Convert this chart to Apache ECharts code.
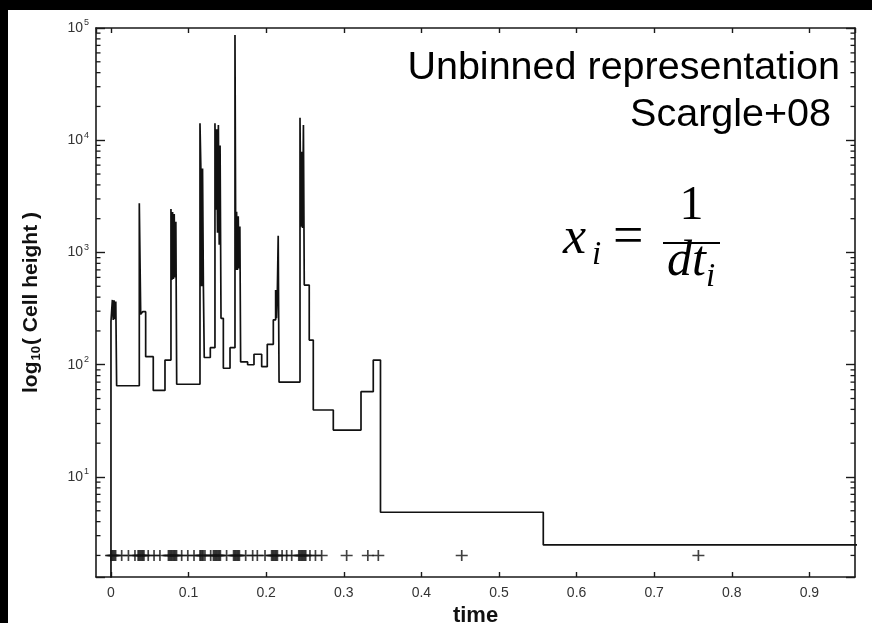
<!DOCTYPE html>
<html>
<head>
<meta charset="utf-8">
<script src="https://cdn.jsdelivr.net/npm/echarts@6/dist/echarts.min.js"></script>
<style>
  html, body { margin: 0; padding: 0; background: #000; width: 872px; height: 623px; overflow: hidden; }
  #chart { position: absolute; left: 8px; top: 10px; width: 864px; height: 613px; background: #fff; }
</style>
</head>
<body>
<div id="chart"></div>
<script>
// Axis extents
const X_MIN = -0.0193;
const X_MAX = 0.9588;
const Y_MIN = 1.285;
const Y_MAX = 100000;

// Level below the axis where the step curve starts, and the row of event markers
const baselineLevel = 1;
const markerLevel = 2;

// Start time of each cell of the unbinned representation
const cellStart = [
  0.0000, 0.0018, 0.0029, 0.0040, 0.0051, 0.0062,
  0.0073, 0.0365, 0.0383, 0.0408, 0.0447, 0.0545, 0.0696,
  0.0773, 0.0784, 0.0794, 0.0805, 0.0815, 0.0826, 0.0836,
  0.0847,
  0.1147, 0.1158, 0.1169, 0.1180, 0.1191,
  0.1202, 0.1280,
  0.1340, 0.1351, 0.1362, 0.1373, 0.1384, 0.1395, 0.1406,
  0.1418, 0.1448, 0.1534,
  0.1598, 0.16085, 0.1619, 0.16295, 0.1640, 0.16505, 0.1661,
  0.1671, 0.1761, 0.1843, 0.1942, 0.2014, 0.2092,
  0.2122, 0.2133, 0.2144, 0.2155,
  0.2166,
  0.2436, 0.2447, 0.2458, 0.2469, 0.2480,
  0.2491, 0.2555, 0.2607, 0.2865, 0.3222, 0.3380, 0.3473, 0.5571
];

// Height of each cell (1 / dt)
const cellHeight = [
  242, 378, 250, 375, 255, 365,
  65, 2740, 281, 297, 118, 59, 110,
  2440, 570, 2300, 580, 2200, 600, 1880,
  67,
  14150, 5800, 500, 5600, 495,
  116, 142,
  14150, 2400, 12500, 1500, 13700, 1170, 9000,
  259, 93, 142,
  86600, 700, 2310, 698, 2100, 720, 1700,
  106, 100, 124, 96, 152, 251,
  464, 260, 450, 1410,
  70,
  15900, 1700, 7900, 1650, 13700,
  513, 166, 39.5, 26.2, 57.5, 110, 4.85, 2.48
];

// Right end of the last cell
const lastCellEnd = 1.0;

// Photon arrival times
const eventTimes = [
  0.000, 0.0015, 0.003, 0.0045, 0.006, 0.0138, 0.0225, 0.0309,
  0.035, 0.0365, 0.038, 0.0395, 0.041, 0.0425, 0.048,
  0.0555, 0.0631, 0.074, 0.0755, 0.077, 0.0785, 0.080, 0.0815, 0.083, 0.0845, 0.0911, 0.099, 0.107,
  0.1147, 0.116, 0.1175, 0.119, 0.1211, 0.1285, 0.132, 0.1335, 0.135, 0.1365, 0.138, 0.1395, 0.141, 0.149,
  0.158, 0.1595, 0.161, 0.1625, 0.164, 0.1655, 0.1736, 0.1826, 0.1886, 0.1985,
  0.207, 0.2085, 0.210, 0.2115, 0.213, 0.2145, 0.2205, 0.2264, 0.2329,
  0.242, 0.2435, 0.245, 0.2465, 0.248, 0.2495, 0.251, 0.2564, 0.2635, 0.2715,
  0.3037, 0.331, 0.3445, 0.452, 0.757
];

// Minor tick positions on the logarithmic axis
const minorTickValues = [
  2, 3, 4, 5, 6, 7, 8, 9,
  20, 30, 40, 50, 60, 70, 80, 90,
  200, 300, 400, 500, 600, 700, 800, 900,
  2000, 3000, 4000, 5000, 6000, 7000, 8000, 9000,
  20000, 30000, 40000, 50000, 60000, 70000, 80000, 90000
];

const stepData = [[cellStart[0], baselineLevel]]
  .concat(cellStart.map((t, i) => [t, cellHeight[i]]))
  .concat([[lastCellEnd, cellHeight[cellHeight.length - 1]]]);
const eventData = eventTimes.map(t => [t, markerLevel]);
const minorData = minorTickValues.map(v => [X_MIN, v]);

const INK = '#1a1a1a';
const SANS = '"Liberation Sans", Arial, sans-serif';
const SERIF = '"Liberation Serif", "Times New Roman", serif';

const frameLine = { show: true, onZero: false, lineStyle: { color: INK, width: 1.6 } };

function timeLabel(v) {
  const k = Math.round(v * 10);
  if (Math.abs(v * 10 - k) > 1e-6) return '';
  return k === 0 ? '0' : (k / 10).toFixed(1);
}
function powerLabel(v) {
  const e = Math.log10(v);
  const n = Math.round(e);
  if (Math.abs(e - n) > 1e-6) return '';
  return '10{sup|' + n + '}';
}

const chart = echarts.init(document.getElementById('chart'), null, { renderer: 'canvas' });

chart.setOption({
  backgroundColor: '#fff',
  animation: false,
  grid: { left: 88, top: 18, right: 17, bottom: 46, containLabel: false, outerBoundsMode: 'none' },
  xAxis: [
    {
      type: 'value', position: 'bottom', min: X_MIN, max: X_MAX, splitNumber: 10,
      axisLine: frameLine,
      axisTick: { inside: true, length: 5, lineStyle: { color: INK, width: 1.4 } },
      axisLabel: { formatter: timeLabel, color: '#333', fontSize: 14, margin: 9, fontFamily: SANS,
                   showMinLabel: false, showMaxLabel: false },
      splitLine: { show: false },
      name: 'time', nameLocation: 'middle', nameGap: 22,
      nameTextStyle: { color: '#111', fontSize: 22, fontWeight: 'bold', fontFamily: SANS }
    },
    {
      type: 'value', position: 'top', min: X_MIN, max: X_MAX, splitNumber: 10,
      axisLine: frameLine,
      axisTick: { inside: true, length: 5, lineStyle: { color: INK, width: 1.4 } },
      axisLabel: { show: false },
      splitLine: { show: false }
    }
  ],
  yAxis: [
    {
      type: 'log', logBase: 10, position: 'left', min: Y_MIN, max: Y_MAX,
      axisLine: frameLine,
      axisTick: { inside: true, length: 9, lineStyle: { color: INK, width: 1.4 } },
      axisLabel: {
        formatter: powerLabel, color: '#333', fontSize: 14, margin: 7, fontFamily: SANS,
        rich: { sup: { fontSize: 9, color: '#333', fontFamily: SANS, padding: [0, 0, 10, 1] } }
      },
      splitLine: { show: false },
      name: 'log{sub|10}( Cell height )', nameLocation: 'middle', nameGap: 53, nameRotate: 90,
      nameTextStyle: {
        color: '#111', fontSize: 21, fontWeight: 'bold', fontFamily: SANS,
        rich: { sub: { fontSize: 13, fontWeight: 'bold', color: '#111', fontFamily: SANS, padding: [10, 1, 0, 1] } }
      }
    },
    {
      type: 'log', logBase: 10, position: 'right', min: Y_MIN, max: Y_MAX,
      axisLine: frameLine,
      axisTick: { inside: true, length: 9, lineStyle: { color: INK, width: 1.4 } },
      axisLabel: { show: false },
      splitLine: { show: false }
    }
  ],
  series: [
    {
      name: 'cells', type: 'line', step: 'end', xAxisIndex: 0, yAxisIndex: 0,
      data: stepData, showSymbol: false, clip: true,
      lineStyle: { color: '#111', width: 1.7 }
    },
    {
      name: 'events', type: 'scatter', xAxisIndex: 0, yAxisIndex: 0,
      data: eventData,
      symbol: 'path://M0,4.3H10V5.7H0Z M4.3,0H5.7V10H4.3Z',
      symbolSize: [12, 11],
      itemStyle: { color: '#111' }
    },
    {
      name: 'minor ticks', type: 'custom', xAxisIndex: 0, yAxisIndex: 0,
      data: minorData, silent: true,
      renderItem: function (params, api) {
        const l = api.coord([X_MIN, api.value(1)]);
        const r = api.coord([X_MAX, api.value(1)]);
        const st = { stroke: INK, lineWidth: 1.3 };
        return {
          type: 'group',
          children: [
            { type: 'line', shape: { x1: l[0], y1: l[1], x2: l[0] + 4.5, y2: l[1] }, style: st },
            { type: 'line', shape: { x1: r[0] - 4.5, y1: r[1], x2: r[0], y2: r[1] }, style: st }
          ]
        };
      }
    }
  ],
  graphic: [
    { type: 'text', x: 832, y: 58, style: { text: 'Unbinned representation', font: '39.5px ' + SANS, fill: '#000', align: 'right', verticalAlign: 'middle' } },
    { type: 'text', x: 823, y: 105.5, style: { text: 'Scargle+08', font: '39.5px ' + SANS, fill: '#000', align: 'right', verticalAlign: 'middle' } },
    { type: 'text', x: 555, y: 229, style: { text: 'x', font: 'italic 52px ' + SERIF, fill: '#000', align: 'left', verticalAlign: 'middle' } },
    { type: 'text', x: 584, y: 245, style: { text: 'i', font: 'italic 33px ' + SERIF, fill: '#000', align: 'left', verticalAlign: 'middle' } },
    { type: 'text', x: 605, y: 229, style: { text: '=', font: '54px ' + SERIF, fill: '#000', align: 'left', verticalAlign: 'middle' } },
    { type: 'text', x: 683.5, y: 196, style: { text: '1', font: '48px ' + SERIF, fill: '#000', align: 'center', verticalAlign: 'middle' } },
    { type: 'rect', shape: { x: 655, y: 232, width: 57, height: 2 }, style: { fill: '#000' } },
    { type: 'text', x: 659, y: 252, style: { text: 'dt', font: 'italic 50px ' + SERIF, fill: '#000', align: 'left', verticalAlign: 'middle' } },
    { type: 'text', x: 698, y: 267, style: { text: 'i', font: 'italic 33px ' + SERIF, fill: '#000', align: 'left', verticalAlign: 'middle' } }
  ]
});
</script>
</body>
</html>
